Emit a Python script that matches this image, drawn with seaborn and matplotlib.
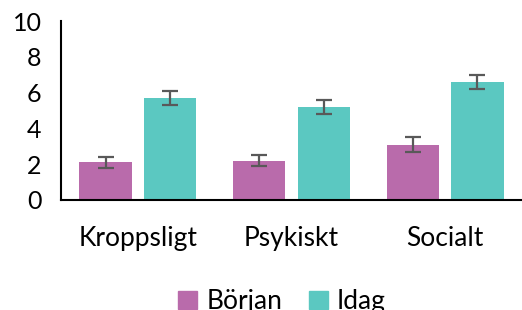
import numpy as np
import pandas as pd
import matplotlib
matplotlib.use("Agg")
import matplotlib.pyplot as plt
import seaborn as sns

# data
categories = ["Kroppsligt", "Psykiskt", "Socialt"]
series = ["Början", "Idag"]
borjan = [2.1, 2.2, 3.1]
idag = [5.7, 5.2, 6.6]
borjan_err = [0.3, 0.3, 0.4]
idag_err = [0.4, 0.4, 0.4]
colors = ["#B96BAB", "#5BC8C1"]

sns.set_style("white")
plt.rcParams["font.family"] = ["Lato", "DejaVu Sans"]

df = pd.DataFrame({
    "kategori": categories * 2,
    "grupp": [series[0]] * 3 + [series[1]] * 3,
    "varde": borjan + idag,
})

fig = plt.figure(figsize=(5.22, 3.10), dpi=100)
ax = fig.add_axes([0.117, 0.355, 0.883, 0.577])

sns.barplot(data=df, x="kategori", y="varde", hue="grupp", order=categories,
            hue_order=series, palette=colors, width=0.84, gap=0.19,
            errorbar=None, saturation=1, linewidth=0, ax=ax, legend=True)

# error bars on top of each bar, placed at the bars seaborn drew
bars = [p for p in ax.patches if p.get_height() > 0]
errs = borjan_err + idag_err
for p, e in zip(bars, errs):
    xc = p.get_x() + p.get_width() / 2
    ax.errorbar(xc, p.get_height(), yerr=e, fmt="none", ecolor="#595959",
                elinewidth=1.6, capsize=5.5, capthick=1.6, zorder=5)

ax.set_ylim(0, 10)
ax.set_yticks([0, 2, 4, 6, 8, 10])
ax.set_xlim(-0.5, 2.5)
ax.set_xlabel("")
ax.set_ylabel("")
sns.despine(ax=ax)
for s in ["left", "bottom"]:
    ax.spines[s].set_color("black")
    ax.spines[s].set_linewidth(1.5)
ax.tick_params(axis="y", direction="out", length=6, width=1.5, color="black",
               labelsize=18, pad=8, labelcolor="black")
ax.tick_params(axis="x", direction="out", length=6, width=1.5, color="black",
               labelsize=19, pad=13, labelcolor="black")

ax.get_legend().remove()
handles = [plt.Rectangle((0, 0), 1, 1, color=c) for c in colors]
fig.legend(handles, series, loc="lower center", bbox_to_anchor=(0.54, -0.09),
           ncol=2, frameon=False, fontsize=19, handlelength=0.72,
           handleheight=0.72, handletextpad=0.35, columnspacing=1.0,
           labelcolor="black")

fig.savefig("out.png", dpi=100)
